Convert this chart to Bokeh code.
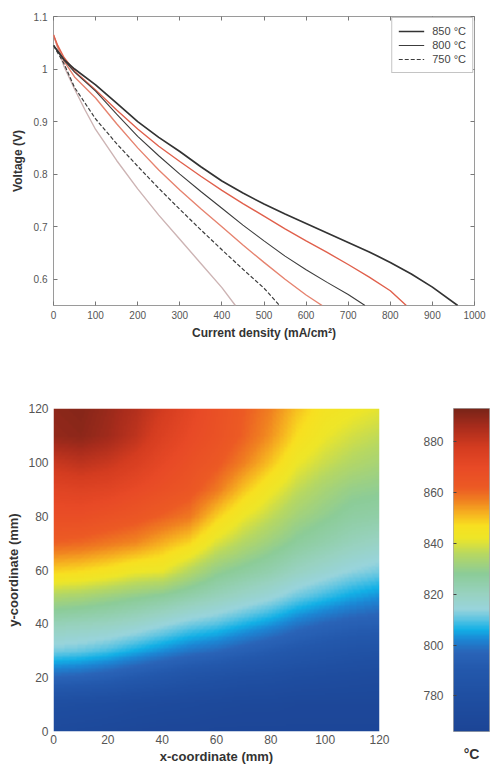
import numpy as np
from bokeh.plotting import figure
from bokeh.models import (FixedTicker, LinearAxis, Legend, LegendItem,
                          LinearColorMapper, Range1d, CustomLabelingPolicy)
from bokeh.layouts import column, row
from bokeh.embed import file_html
from bokeh.resources import INLINE

# ---------------- data: polarisation curves ----------------
B850_J = [0, 25, 50, 100, 150, 200, 250, 300, 350, 400, 450, 500, 550, 600, 650, 700, 750, 800, 850, 900, 960]
B850_V = [1.045, 1.018, 1.000, 0.970, 0.935, 0.900, 0.870, 0.843, 0.814, 0.787, 0.764, 0.743, 0.724, 0.706, 0.688, 0.670, 0.652, 0.632, 0.610, 0.585, 0.550]

R850_J = [0, 10, 25, 50, 100, 150, 200, 250, 300, 350, 400, 450, 500, 550, 600, 650, 700, 750, 800, 838]
R850_V = [1.065, 1.045, 1.022, 0.996, 0.960, 0.922, 0.886, 0.853, 0.824, 0.796, 0.769, 0.744, 0.720, 0.696, 0.673, 0.651, 0.628, 0.604, 0.578, 0.550]

B800_J = [0, 25, 50, 100, 150, 200, 250, 300, 350, 400, 450, 500, 550, 600, 650, 700, 740]
B800_V = [1.045, 1.017, 0.994, 0.958, 0.914, 0.872, 0.835, 0.800, 0.767, 0.735, 0.703, 0.673, 0.644, 0.618, 0.594, 0.571, 0.550]

R800_J = [0, 10, 25, 50, 100, 150, 200, 250, 300, 350, 400, 450, 500, 550, 600, 638]
R800_V = [1.065, 1.042, 1.015, 0.985, 0.945, 0.896, 0.850, 0.808, 0.770, 0.734, 0.700, 0.665, 0.632, 0.600, 0.570, 0.550]

B750_J = [0, 25, 50, 75, 100, 150, 200, 250, 300, 350, 400, 450, 500, 537]
B750_V = [1.045, 1.010, 0.965, 0.935, 0.905, 0.858, 0.815, 0.773, 0.733, 0.694, 0.656, 0.619, 0.583, 0.550]

L750_J = [0, 10, 25, 50, 75, 100, 150, 200, 250, 300, 350, 400, 432]
L750_V = [1.065, 1.040, 1.005, 0.962, 0.922, 0.885, 0.826, 0.772, 0.722, 0.676, 0.630, 0.584, 0.550]

LEGEND_LABELS = ["850 °C", "800 °C", "750 °C"]
X_TICKS = [0, 100, 200, 300, 400, 500, 600, 700, 800, 900, 1000]
Y_TICKS = [0.6, 0.7, 0.8, 0.9, 1, 1.1]

# ---------------- data: temperature field (°C) ----------------
GRID_X = [0, 10, 20, 30, 40, 50, 60, 70, 80, 90, 100, 110, 120]
GRID_Y = [0, 10, 20, 30, 40, 50, 60, 70, 80, 90, 100, 110, 120]
# one list per x position, values from y=0 up to y=120
T_X0 = [773, 779, 797, 812, 822, 834, 849, 861, 868, 873, 880, 889, 890]
T_X10 = [772, 778, 796, 811, 821, 833, 848, 860, 868, 874, 882, 890, 891]
T_X20 = [771, 777, 794, 809, 820, 831, 846, 858, 866, 873, 880, 887, 888]
T_X30 = [770, 775, 791, 806, 818, 829, 843, 856, 864, 870, 876, 882, 884]
T_X40 = [769, 774, 788, 803, 815, 827, 842, 852, 861, 867, 871, 875, 878]
T_X50 = [769, 773, 785, 800, 812, 824, 836, 848, 858, 864, 867, 870, 872]
T_X60 = [768, 772, 783, 798, 810, 821, 830, 840, 849, 858, 863, 866, 867]
T_X70 = [768, 771, 781, 795, 807, 818, 827, 835, 842, 850, 857, 861, 862]
T_X80 = [768, 771, 780, 792, 804, 815, 824, 831, 837, 843, 850, 855, 857]
T_X90 = [768, 770, 778, 789, 800, 811, 820, 827, 832, 837, 842, 847, 850]
T_X100 = [768, 770, 777, 787, 797, 808, 817, 824, 829, 833, 838, 842, 845]
T_X110 = [768, 770, 776, 785, 795, 805, 814, 821, 826, 830, 835, 839, 843]
T_X120 = [768, 770, 775, 784, 794, 803, 812, 819, 825, 829, 833, 837, 841]
T_MIN, T_MAX = 766, 893
CB_TICKS = [780, 800, 820, 840, 860, 880]
HEAT_TICKS = [0, 20, 40, 60, 80, 100, 120]

FONT = "Liberation Sans"
NO_LABELS = CustomLabelingPolicy(code="for (const i of indices) indices.unset(i)")

# ---------------- top figure ----------------
p1 = figure(width=492, height=342, x_range=Range1d(0, 1000), y_range=Range1d(0.55, 1.1),
            output_backend="svg", toolbar_location=None,
            min_border_left=53, min_border_right=13, min_border_top=16, min_border_bottom=35)
p1.grid.visible = False
p1.outline_line_color = "#9a9a9a"
p1.background_fill_color = "white"

r_l750 = p1.line(L750_J, L750_V, line_color="#cdb4b4", line_width=1.4)
r_r800 = p1.line(R800_J, R800_V, line_color="#e6836f", line_width=1.4)
r_r850 = p1.line(R850_J, R850_V, line_color="#e0604c", line_width=1.4)
r_b750 = p1.line(B750_J, B750_V, line_color="#3c3c3c", line_width=1.2, line_dash="4 2")
r_b800 = p1.line(B800_J, B800_V, line_color="#3c3c3c", line_width=1.1)
r_b850 = p1.line(B850_J, B850_V, line_color="#333333", line_width=1.7)

for ax in [p1.xaxis[0], p1.yaxis[0]]:
    ax.axis_line_color = None
    ax.major_tick_in = 4
    ax.major_tick_out = 0
    ax.minor_tick_line_color = None
    ax.major_tick_line_color = "#777777"
    ax.major_label_text_font = FONT
    ax.major_label_text_font_size = "10px"
    ax.major_label_text_color = "#555555"
    ax.axis_label_text_font = FONT
    ax.axis_label_text_font_size = "12px"
    ax.axis_label_text_font_style = "bold"
    ax.axis_label_text_color = "#333333"
p1.xaxis.ticker = FixedTicker(ticks=X_TICKS)
p1.yaxis.ticker = FixedTicker(ticks=Y_TICKS)
p1.yaxis.major_label_overrides = {1: "1"}
p1.xaxis.axis_label = "Current density (mA/cm²)"
p1.yaxis.axis_label = "Voltage (V)"
p1.xaxis.major_label_standoff = 5
p1.yaxis.major_label_standoff = 6
p1.xaxis.axis_label_standoff = 4
p1.yaxis.axis_label_standoff = 6

for side, tk in [("above", X_TICKS), ("right", Y_TICKS)]:
    a = LinearAxis(ticker=FixedTicker(ticks=tk), major_label_policy=NO_LABELS)
    a.axis_line_color = None
    a.major_tick_in = 4
    a.major_tick_out = 0
    a.minor_tick_line_color = None
    a.major_tick_line_color = "#777777"
    a.major_label_standoff = 0
    p1.add_layout(a, side)

leg = Legend(items=[LegendItem(label=LEGEND_LABELS[0], renderers=[r_b850]),
                    LegendItem(label=LEGEND_LABELS[1], renderers=[r_b800]),
                    LegendItem(label=LEGEND_LABELS[2], renderers=[r_b750])],
             location="top_right")
leg.margin = 1
leg.padding = 6
leg.spacing = 0
leg.glyph_width = 26
leg.glyph_height = 14
leg.label_height = 14
leg.label_standoff = 8
leg.label_text_font = FONT
leg.label_text_font_size = "11px"
leg.label_text_color = "#444444"
leg.border_line_color = "#8a8a8a"
leg.background_fill_alpha = 1.0
p1.add_layout(leg)

# ---------------- colormap ----------------
ANCHORS = [(766, "#1c4596"), (780, "#1f4fa2"), (790, "#2358ac"), (797, "#2a64b8"),
           (802, "#1c86d4"), (806, "#12b0e6"), (810, "#5cc4e2"), (814, "#98d4dc"),
           (820, "#98d2c0"), (828, "#8ccc98"), (836, "#b8d860"), (842, "#eee628"),
           (847, "#f8e020"), (852, "#f6b020"), (857, "#f08020"), (862, "#ec5a24"),
           (870, "#e84a26"), (878, "#d43c20"), (886, "#a82c1c"), (893, "#7a2418")]


def hex2rgb(h):
    return [int(h[i:i + 2], 16) for i in (1, 3, 5)]


av = np.array([a[0] for a in ANCHORS], dtype=float)
ac = np.array([hex2rgb(a[1]) for a in ANCHORS], dtype=float)
pv = np.linspace(T_MIN, T_MAX, 256)
palette = []
for v in pv:
    rgb = [np.interp(v, av, ac[:, k]) for k in range(3)]
    palette.append("#%02x%02x%02x" % tuple(int(round(c)) for c in rgb))
mapper = LinearColorMapper(palette=palette, low=T_MIN, high=T_MAX)

# ---------------- temperature field (shading interp of the grid) ----------------
cols = [T_X0, T_X10, T_X20, T_X30, T_X40, T_X50, T_X60, T_X70, T_X80, T_X90, T_X100, T_X110, T_X120]
grid = np.array(cols, dtype=float).T  # rows = y, cols = x
xq = np.linspace(0, 120, 241)
yq = np.linspace(0, 120, 241)
tmp = np.array([np.interp(yq, GRID_Y, grid[:, k]) for k in range(grid.shape[1])]).T
field = np.array([np.interp(xq, GRID_X, tmp[i, :]) for i in range(tmp.shape[0])])

p2 = figure(width=399, height=424, x_range=Range1d(0, 120), y_range=Range1d(0, 120),
            output_backend="svg", toolbar_location=None,
            min_border_left=53, min_border_right=20, min_border_top=66, min_border_bottom=34)
p2.grid.visible = False
p2.outline_line_color = None
p2.image(image=[field], x=0, y=0, dw=120, dh=120, color_mapper=mapper)
for ax in [p2.xaxis[0], p2.yaxis[0]]:
    ax.ticker = FixedTicker(ticks=HEAT_TICKS)
    ax.axis_line_color = None
    ax.major_tick_in = 0
    ax.major_tick_out = 0
    ax.minor_tick_line_color = None
    ax.major_label_text_font = FONT
    ax.major_label_text_font_size = "12px"
    ax.major_label_text_color = "#555555"
    ax.axis_label_text_font = FONT
    ax.axis_label_text_font_size = "13px"
    ax.axis_label_text_font_style = "bold"
    ax.axis_label_text_color = "#333333"
p2.xaxis.axis_label = "x-coordinate (mm)"
p2.yaxis.axis_label = "y-coordinate (mm)"
p2.xaxis.major_label_standoff = 3
p2.yaxis.major_label_standoff = 5
p2.xaxis.axis_label_standoff = 2
p2.yaxis.axis_label_standoff = 4

# ---------------- colorbar ----------------
p3 = figure(width=93, height=424, x_range=Range1d(0, 1), y_range=Range1d(T_MIN, T_MAX),
            output_backend="svg", toolbar_location=None,
            min_border_left=54, min_border_right=3, min_border_top=66, min_border_bottom=34)
p3.grid.visible = False
p3.outline_line_color = "#555555"
p3.outline_line_alpha = 0.5
cb_vals = np.linspace(T_MIN, T_MAX, 256).reshape(256, 1)
p3.image(image=[cb_vals], x=0, y=T_MIN, dw=1, dh=T_MAX - T_MIN, color_mapper=mapper)
ya = p3.yaxis[0]
ya.ticker = FixedTicker(ticks=CB_TICKS)
ya.axis_line_color = None
ya.major_tick_in = 3
ya.major_tick_out = 0
ya.major_tick_line_color = "#444444"
ya.minor_tick_line_color = None
ya.major_label_text_font = FONT
ya.major_label_text_font_size = "12px"
ya.major_label_text_color = "#555555"
ya.major_label_standoff = 10
xa = p3.xaxis[0]
xa.ticker = FixedTicker(ticks=[])
xa.axis_line_color = None
xa.major_tick_line_color = None
xa.minor_tick_line_color = None
xa.axis_label = "°C"
xa.axis_label_text_font = FONT
xa.axis_label_text_font_size = "14px"
xa.axis_label_text_font_style = "bold"
xa.axis_label_text_color = "#333333"
xa.axis_label_standoff = 14

layout = column(p1, row(p2, p3))
open("out.html", "w").write(file_html(layout, INLINE))
